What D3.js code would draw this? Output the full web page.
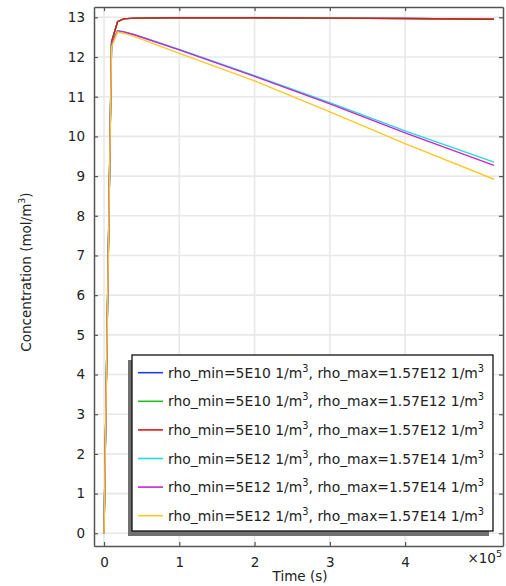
<!DOCTYPE html>
<html><head><meta charset="utf-8">
<script src="https://cdn.jsdelivr.net/npm/d3@7"></script>
<style>body{margin:0;background:#fff}svg{display:block;font-family:"DejaVu Sans",sans-serif}</style>
</head><body><svg id="c" width="506" height="586"></svg>
<script>
// Data (time in units of 1e5 s)
const times = [0, 0.1, 0.18, 0.26, 0.4, 1, 2, 3, 4, 5.18];
const seriesLow = [0, 12.38, 12.89, 12.96, 12.98, 12.99, 12.99, 12.98, 12.97, 12.95];
const seriesHighCyan = [0, 12.32, 12.66, 12.64, 12.57, 12.19, 11.53, 10.85, 10.14, 9.35];
const seriesHighMagenta = [0, 12.3, 12.66, 12.63, 12.56, 12.18, 11.51, 10.82, 10.09, 9.27];
const seriesHighYellow = [0, 12.25, 12.63, 12.6, 12.52, 12.09, 11.40, 10.62, 9.82, 8.92];
const legendLabels = [
  ["rho_min=5E10 1/m", "3", ", rho_max=1.57E12 1/m", "3"],
  ["rho_min=5E10 1/m", "3", ", rho_max=1.57E12 1/m", "3"],
  ["rho_min=5E10 1/m", "3", ", rho_max=1.57E12 1/m", "3"],
  ["rho_min=5E12 1/m", "3", ", rho_max=1.57E14 1/m", "3"],
  ["rho_min=5E12 1/m", "3", ", rho_max=1.57E14 1/m", "3"],
  ["rho_min=5E12 1/m", "3", ", rho_max=1.57E14 1/m", "3"]
];
const seriesValues = [seriesLow, seriesLow, seriesLow, seriesHighCyan, seriesHighMagenta, seriesHighYellow];
const colors = ["#1f3ff0", "#20c020", "#e01818", "#20dcdc", "#cc22cc", "#ffc824"];
const xTicks = [0, 1, 2, 3, 4];
const yTicks = d3.range(0, 14);

const svg = d3.select("#c");
const L = 94, R = 503, T = 7, B = 546;
const x = d3.scaleLinear().domain([-0.133, 5.3]).range([L, R]);
const y = d3.scaleLinear().domain([-0.32, 13.26]).range([B, T]);

// grid
const g = svg.append("g");
g.selectAll(".gx").data(xTicks).join("line")
  .attr("x1", d => x(d)).attr("x2", d => x(d)).attr("y1", T).attr("y2", B)
  .attr("stroke", "#e8e8e8").attr("stroke-width", 1.6);
g.selectAll(".gy").data(yTicks).join("line")
  .attr("y1", d => y(d)).attr("y2", d => y(d)).attr("x1", L).attr("x2", R)
  .attr("stroke", "#e8e8e8").attr("stroke-width", 1.6);

// lines
const line = d3.line().x((d, i) => x(times[i])).y(d => y(d));
seriesValues.forEach((s, k) => {
  svg.append("path").datum(s).attr("d", line)
    .attr("fill", "none").attr("stroke", colors[k]).attr("stroke-width", 1.4)
    .attr("stroke-linejoin", "round");
});

// axes
const axCol = "#555";
const mk = (gen, tr) => {
  const a = svg.append("g").attr("transform", tr).call(gen);
  a.select(".domain").attr("stroke", axCol).attr("stroke-width", 1.5);
  a.selectAll(".tick line").attr("stroke", axCol).attr("stroke-width", 1.2);
  a.selectAll("text").attr("font-family", "DejaVu Sans").attr("font-size", 13.5).attr("fill", "#222");
  return a;
};
mk(d3.axisBottom(x).tickValues(xTicks).tickSizeInner(-4).tickSizeOuter(0).tickPadding(11).tickFormat(d3.format("d")), `translate(0,${B})`);
mk(d3.axisTop(x).tickValues(xTicks).tickSizeInner(-4).tickSizeOuter(0).tickFormat(""), `translate(0,${T})`);
mk(d3.axisLeft(y).tickValues(yTicks).tickSizeInner(-4).tickSizeOuter(0).tickPadding(9).tickFormat(d3.format("d")), `translate(${L},0)`);
mk(d3.axisRight(y).tickValues(yTicks).tickSizeInner(-4).tickSizeOuter(0).tickFormat(""), `translate(${R},0)`);

// axis titles
svg.append("text").attr("x", 300).attr("y", 581).attr("text-anchor", "middle")
  .attr("font-size", 13.5).attr("fill", "#222").text("Time (s)");
const yt = svg.append("text").attr("transform", `translate(31,272) rotate(-90)`)
  .attr("text-anchor", "middle").attr("font-size", 13.5).attr("fill", "#222");
yt.append("tspan").text("Concentration (mol/m");
yt.append("tspan").attr("font-size", 9.5).attr("dy", -6).text("3");
yt.append("tspan").attr("dy", 6).text(")");
const ex = svg.append("text").attr("x", 502).attr("y", 563).attr("text-anchor", "end")
  .attr("font-size", 13.5).attr("fill", "#222");
ex.append("tspan").text("×10");
ex.append("tspan").attr("font-size", 9.5).attr("dy", -6).text("5");

// legend
const lx = 132, ly = 355, lw = 361, lh = 176;
svg.append("rect").attr("x", lx - 4).attr("y", ly + 5).attr("width", lw).attr("height", lh).attr("fill", "#707070");
svg.append("rect").attr("x", lx).attr("y", ly).attr("width", lw).attr("height", lh)
  .attr("fill", "#fff").attr("stroke", "#111").attr("stroke-width", 1.3);
legendLabels.forEach((lab, i) => {
  const yy = 372.7 + i * 28.6;
  svg.append("line").attr("x1", 138).attr("x2", 163).attr("y1", yy).attr("y2", yy)
    .attr("stroke", colors[i]).attr("stroke-width", 1.6);
  const t = svg.append("text").attr("x", 168).attr("y", yy + 5).attr("font-size", 13.9).attr("fill", "#222");
  t.append("tspan").text(lab[0]);
  t.append("tspan").attr("font-size", 9.8).attr("dy", -6).text(lab[1]);
  t.append("tspan").attr("dy", 6).text(lab[2]);
  t.append("tspan").attr("font-size", 9.8).attr("dy", -6).text(lab[3]);
});
</script></body></html>
